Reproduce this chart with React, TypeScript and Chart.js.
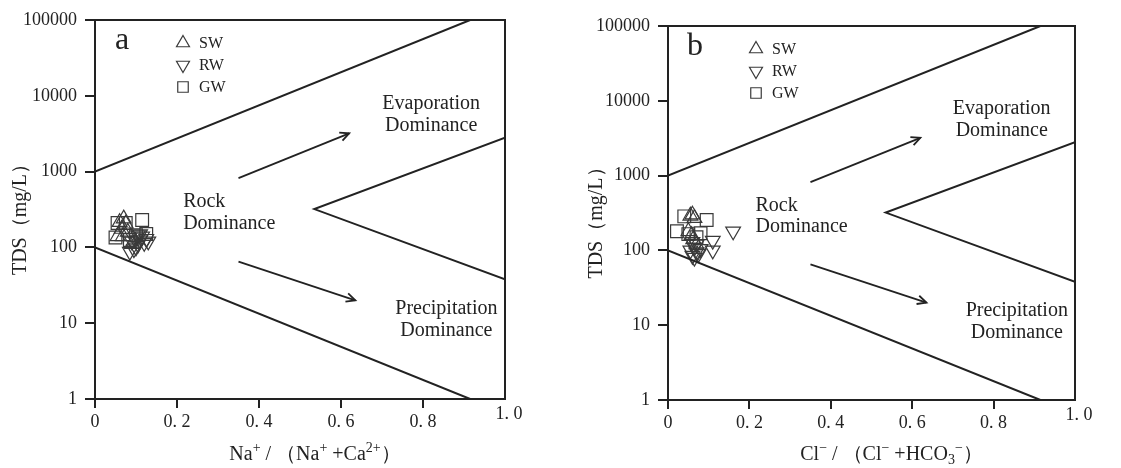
import React, { useEffect, useRef } from "react";
import { Chart, registerables } from "chart.js";
Chart.register(...registerables);

type Pt = [number, number];
type Seg = { t: string; k?: "sup" | "sub" };

// ---------- axis ticks ----------
const xTickValues = [0, 0.2, 0.4, 0.6, 0.8, 1.0];
const xTickLabels = ["0", "0. 2", "0. 4", "0. 6", "0. 8", "1. 0"];
const yTickValues = [1, 10, 100, 1000, 10000, 100000];
const yTickLabels = ["1", "10", "100", "1000", "10000", "100000"];

// ---------- Gibbs boundary lines (x, TDS) ----------
const upperBoundary: Pt[] = [[0, 1000], [0.915, 100000]];
const lowerBoundary: Pt[] = [[0, 100], [0.915, 1]];
const vBoundary: Pt[] = [[1.0, 2800], [0.535, 320], [1.0, 38]];

// arrows: [x0, y0, x1, y1]
const arrowUp = [0.35, 820, 0.62, 3200];
const arrowDown = [0.35, 65, 0.635, 20];

// ---------- panel a : Na+/(Na+ + Ca2+) ----------
const aSW: Pt[] = [[0.06, 215], [0.07, 240], [0.075, 205], [0.055, 140], [0.068, 140], [0.08, 160], [0.09, 110], [0.065, 175]];
const aRW: Pt[] = [[0.09, 120], [0.1, 135], [0.105, 110], [0.11, 125], [0.115, 140], [0.12, 115], [0.125, 130], [0.1, 100], [0.095, 95], [0.085, 88], [0.11, 150], [0.13, 120], [0.105, 145]];
const aGW: Pt[] = [[0.055, 210], [0.075, 210], [0.115, 230], [0.05, 135], [0.125, 150], [0.085, 125], [0.1, 145]];

// ---------- panel b : Cl-/(Cl- + HCO3-) ----------
const bSW: Pt[] = [[0.055, 290], [0.06, 300], [0.065, 270], [0.05, 180], [0.058, 160], [0.062, 140], [0.07, 120]];
const bRW: Pt[] = [[0.16, 180], [0.11, 135], [0.11, 100], [0.06, 130], [0.065, 110], [0.07, 95], [0.06, 85], [0.075, 90], [0.055, 100], [0.07, 120], [0.08, 105], [0.065, 80]];
const bGW: Pt[] = [[0.04, 285], [0.095, 255], [0.022, 180], [0.08, 170], [0.07, 150], [0.05, 165]];

const legendLabels = ["SW", "RW", "GW"];
const yTitle = "TDS（mg/L）";
const aXTitle: Seg[] = [{ t: "Na" }, { t: "+", k: "sup" }, { t: " / （Na" }, { t: "+", k: "sup" }, { t: " +Ca" }, { t: "2+", k: "sup" }, { t: "）" }];
const bXTitle: Seg[] = [{ t: "Cl" }, { t: "−", k: "sup" }, { t: " / （Cl" }, { t: "−", k: "sup" }, { t: " +HCO" }, { t: "3", k: "sub" }, { t: "−", k: "sup" }, { t: "）" }];

const SERIF = '"Liberation Serif", "Times New Roman", serif';
const INK = "#222";
const MARK = "#3a3a3a";

interface Spec {
  letter: string;
  sw: Pt[];
  rw: Pt[];
  gw: Pt[];
  xTitle: Seg[];
  W: number;
  H: number;
  area: { left: number; top: number; right: number; bottom: number };
  yTitleX: number;
  xTitleShift: number;
  xTitleY: number;
}

const toXY = (a: Pt[]) => a.map(([x, y]) => ({ x, y }));

function drawRich(ctx: CanvasRenderingContext2D, segs: Seg[], cx: number, y: number, size: number) {
  const f = (k?: string) => (k ? `${Math.round(size * 0.68)}px ${SERIF}` : `${size}px ${SERIF}`);
  let w = 0;
  for (const s of segs) {
    ctx.font = f(s.k);
    w += ctx.measureText(s.t).width;
  }
  let x = cx - w / 2;
  ctx.textAlign = "left";
  ctx.textBaseline = "alphabetic";
  for (const s of segs) {
    ctx.font = f(s.k);
    const dy = s.k === "sup" ? -size * 0.42 : s.k === "sub" ? size * 0.18 : 0;
    ctx.fillText(s.t, x, y + dy);
    x += ctx.measureText(s.t).width;
  }
}

function drawMarker(ctx: CanvasRenderingContext2D, kind: string, x: number, y: number, r: number) {
  ctx.beginPath();
  if (kind === "up" || kind === "down") {
    const s = kind === "up" ? 1 : -1;
    ctx.moveTo(x, y - s * r);
    ctx.lineTo(x + r * 0.866, y + s * r * 0.5);
    ctx.lineTo(x - r * 0.866, y + s * r * 0.5);
    ctx.closePath();
  } else {
    ctx.rect(x - r * 0.7, y - r * 0.7, r * 1.4, r * 1.4);
  }
  ctx.stroke();
}

function makePlugin(spec: Spec) {
  return {
    id: "gibbsDecor" + spec.letter,
    afterDraw(chart: any) {
      const ctx: CanvasRenderingContext2D = chart.ctx;
      const xs = chart.scales.x;
      const ys = chart.scales.y;
      const ca = chart.chartArea;
      const px = (v: number) => xs.getPixelForValue(v);
      const py = (v: number) => ys.getPixelForValue(v);
      ctx.save();
      // frame (top & right)
      ctx.strokeStyle = INK;
      ctx.lineWidth = 2;
      ctx.beginPath();
      ctx.moveTo(ca.left, ca.top);
      ctx.lineTo(ca.right, ca.top);
      ctx.lineTo(ca.right, ca.bottom);
      ctx.stroke();

      // arrows
      ctx.lineWidth = 1.8;
      for (const a of [arrowUp, arrowDown]) {
        const x0 = px(a[0]), y0 = py(a[1]), x1 = px(a[2]), y1 = py(a[3]);
        ctx.beginPath();
        ctx.moveTo(x0, y0);
        ctx.lineTo(x1, y1);
        ctx.stroke();
        const ang = Math.atan2(y1 - y0, x1 - x0);
        const hl = 10;
        ctx.beginPath();
        ctx.moveTo(x1 - hl * Math.cos(ang - 0.45), y1 - hl * Math.sin(ang - 0.45));
        ctx.lineTo(x1, y1);
        ctx.lineTo(x1 - hl * Math.cos(ang + 0.45), y1 - hl * Math.sin(ang + 0.45));
        ctx.stroke();
      }

      // region labels
      ctx.fillStyle = INK;
      ctx.font = `20px ${SERIF}`;
      ctx.textBaseline = "middle";
      ctx.textAlign = "center";
      ctx.fillText("Evaporation", px(0.82), py(7800));
      ctx.fillText("Dominance", px(0.82), py(4000));
      ctx.fillText("Precipitation", px(0.857), py(15.4));
      ctx.fillText("Dominance", px(0.857), py(7.9));
      ctx.textAlign = "left";
      ctx.fillText("Rock", px(0.215), py(400));
      ctx.fillText("Dominance", px(0.215), py(207));

      // panel letter
      ctx.font = `32px ${SERIF}`;
      ctx.textAlign = "center";
      ctx.textBaseline = "alphabetic";
      ctx.fillText(spec.letter, ca.left + 27, ca.top + 29);

      // legend
      const kinds = ["up", "down", "sq"];
      ctx.strokeStyle = MARK;
      ctx.lineWidth = 1.2;
      ctx.font = `16px ${SERIF}`;
      ctx.textAlign = "left";
      ctx.textBaseline = "middle";
      kinds.forEach((k, i) => {
        const ly = ca.top + 23 + i * 22;
        const lx = ca.left + 88;
        drawMarker(ctx, k, lx, ly, 7.5);
        ctx.fillText(legendLabels[i], lx + 16, ly + 1);
      });

      // raised "1. 0" label
      ctx.font = `18px ${SERIF}`;
      ctx.textAlign = "center";
      ctx.textBaseline = "middle";
      ctx.fillText(xTickLabels[5], px(1) + 4, ca.bottom + 15);

      // axis titles
      drawRich(ctx, spec.xTitle, (ca.left + ca.right) / 2 + spec.xTitleShift, spec.xTitleY, 20);
      ctx.save();
      ctx.translate(spec.yTitleX, (ca.top + ca.bottom) / 2 + 5);
      ctx.rotate(-Math.PI / 2);
      ctx.font = `20px ${SERIF}`;
      ctx.textAlign = "center";
      ctx.textBaseline = "middle";
      ctx.fillText(yTitle, 0, 0);
      ctx.restore();
      ctx.restore();
    },
  };
}

function Panel({ spec }: { spec: Spec }) {
  const ref = useRef<HTMLCanvasElement>(null);
  useEffect(() => {
    if (!ref.current) return;
    const lineDs = (d: Pt[]) => ({
      type: "line" as const,
      data: toXY(d),
      borderColor: INK,
      borderWidth: 2,
      pointRadius: 0,
      showLine: true,
      fill: false,
      tension: 0,
    });
    const ptDs = (d: Pt[], style: string, rot: number, r: number) => ({
      type: "scatter" as const,
      data: toXY(d),
      pointStyle: style,
      rotation: rot,
      pointRadius: r,
      pointBorderColor: MARK,
      pointBackgroundColor: "rgba(0,0,0,0)",
      pointBorderWidth: 1.2,
      borderColor: MARK,
      backgroundColor: "rgba(0,0,0,0)",
      showLine: false,
    });
    const { area, W, H } = spec;
    const chart = new Chart(ref.current, {
      type: "scatter",
      data: {
        datasets: [
          lineDs(upperBoundary) as any,
          lineDs(lowerBoundary) as any,
          lineDs(vBoundary) as any,
          ptDs(spec.gw, "rect", 0, 9),
          ptDs(spec.rw, "triangle", 180, 8.5),
          ptDs(spec.sw, "triangle", 0, 8.5),
        ],
      },
      options: {
        responsive: false,
        maintainAspectRatio: false,
        animation: false,
        events: [],
        layout: { padding: { top: area.top, right: W - area.right, left: 0, bottom: 0 } },
        plugins: { legend: { display: false }, tooltip: { enabled: false } },
        scales: {
          x: {
            type: "linear",
            min: 0,
            max: 1,
            afterBuildTicks: (s: any) => {
              s.ticks = xTickValues.map((v) => ({ value: v }));
            },
            afterFit: (s: any) => {
              s.height = H - area.bottom;
            },
            grid: {
              drawOnChartArea: false,
              drawTicks: true,
              tickLength: 9,
              lineWidth: 2,
              color: (c: any) => (c.tick && c.tick.value === 1 ? "rgba(0,0,0,0)" : INK),
            },
            border: { display: true, color: INK, width: 2 },
            ticks: {
              autoSkip: false,
              maxRotation: 0,
              padding: 3,
              color: INK,
              font: { family: SERIF, size: 18 },
              callback: (v: any) => {
                const i = xTickValues.findIndex((t) => Math.abs(t - Number(v)) < 1e-9);
                return i < 0 || i === 5 ? "" : xTickLabels[i];
              },
            },
          },
          y: {
            type: "logarithmic",
            min: 1,
            max: 100000,
            afterBuildTicks: (s: any) => {
              s.ticks = yTickValues.map((v) => ({ value: v }));
            },
            afterFit: (s: any) => {
              s.width = area.left;
            },
            grid: { drawOnChartArea: false, drawTicks: true, tickLength: 10, lineWidth: 2, color: INK },
            border: { display: true, color: INK, width: 2 },
            ticks: {
              autoSkip: false,
              padding: 8,
              color: INK,
              font: { family: SERIF, size: 18 },
              callback: (v: any) => {
                const i = yTickValues.findIndex((t) => Math.abs(t - Number(v)) < 1e-6);
                return i < 0 ? "" : yTickLabels[i];
              },
            },
          },
        },
      } as any,
      plugins: [makePlugin(spec)],
    });
    return () => chart.destroy();
  }, [spec]);
  return <canvas ref={ref} width={spec.W} height={spec.H} style={{ width: spec.W, height: spec.H, display: "block" }} />;
}

const specA: Spec = {
  letter: "a",
  sw: aSW,
  rw: aRW,
  gw: aGW,
  xTitle: aXTitle,
  W: 560,
  H: 468,
  area: { left: 95, top: 20, right: 505, bottom: 399 },
  yTitleX: 21,
  xTitleShift: 15,
  xTitleY: 460,
};

const specB: Spec = {
  letter: "b",
  sw: bSW,
  rw: bRW,
  gw: bGW,
  xTitle: bXTitle,
  W: 561,
  H: 468,
  area: { left: 108, top: 26, right: 515, bottom: 400 },
  yTitleX: 37,
  xTitleShift: 20,
  xTitleY: 460,
};

export default function App() {
  return (
    <div style={{ position: "absolute", left: 0, top: 0, width: 1121, height: 468, background: "#fff" }}>
      <div style={{ position: "absolute", left: 0, top: 0 }}>
        <Panel spec={specA} />
      </div>
      <div style={{ position: "absolute", left: 560, top: 0 }}>
        <Panel spec={specB} />
      </div>
    </div>
  );
}
